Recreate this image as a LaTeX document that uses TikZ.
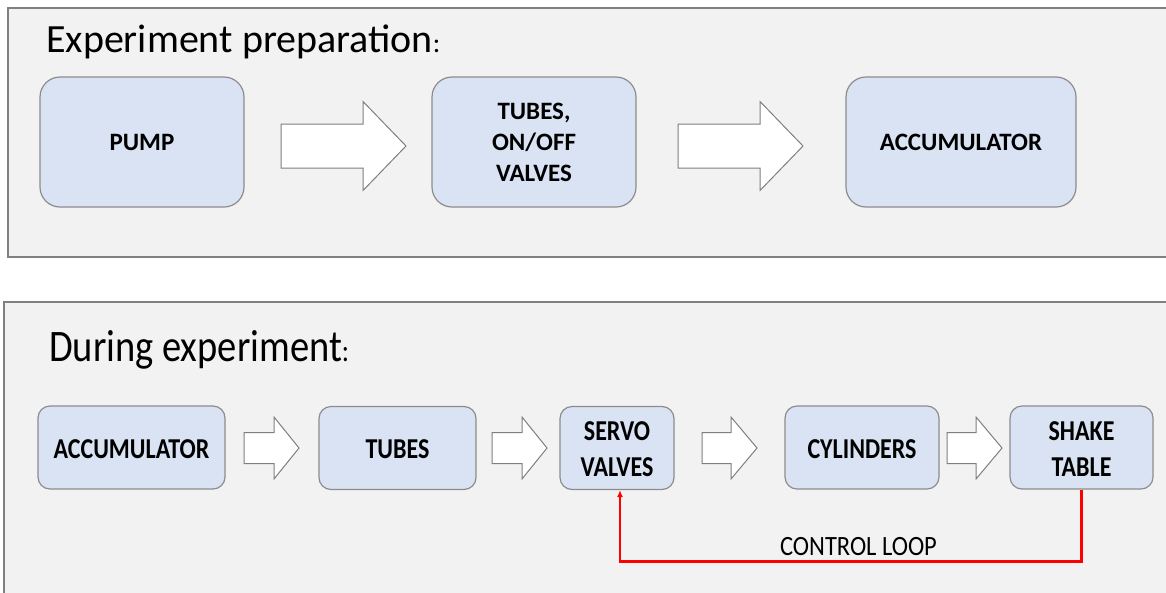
\documentclass[tikz,border=0pt]{standalone}
\usepackage{fontspec}
\usepackage{graphicx}
\setmainfont{Carlito}
\usetikzlibrary{arrows.meta}
\definecolor{panelfill}{HTML}{F2F2F2}
\definecolor{panelline}{HTML}{808080}
\definecolor{boxfill}{HTML}{DAE3F3}
\definecolor{boxline}{HTML}{8C8C8C}
\definecolor{arrline}{HTML}{7F7F7F}
\definecolor{loopred}{HTML}{FF0000}
\newcommand{\talltext}[1]{\raisebox{-3.5pt}[\height][\depth]{\scalebox{1}[1.2]{\begin{tabular}{@{}c@{}}#1\end{tabular}}}}
\newcommand{\blockarr}[6]{%
  \draw[blockarrow] (#1,#3-#5) -- (#2,#3-#5) -- (#2,#3-#6) -- (#4,#3) -- (#2,#3+#6) -- (#2,#3+#5) -- (#1,#3+#5) -- cycle;}
\tikzset{
  panel/.style={fill=panelfill, draw=panelline, line width=1.5pt},
  bigbox/.style={rectangle, rounded corners=20pt, fill=boxfill, draw=boxline, line width=1.2pt,
    inner sep=0pt, minimum height=130pt, align=center, font=\bfseries\fontsize{25}{31}\selectfont},
  smallbox/.style={rectangle, rounded corners=12pt, fill=boxfill, draw=boxline, line width=1.2pt,
    inner sep=0pt, minimum height=83pt, align=center, font=\bfseries\fontsize{24}{30}\selectfont},
  blockarrow/.style={fill=white, draw=arrline, line width=1pt, line join=miter},
  loopline/.style={draw=loopred, line width=2.5pt, -{Latex[length=7pt,width=6pt]}},
}
\begin{document}
\begin{tikzpicture}[x=1pt,y=-1pt]
\useasboundingbox (0,0) rectangle (1166,592);
% panels
\draw[panel] (8,8) rectangle (1180,257);
\draw[panel] (4,302) rectangle (1180,610);
% titles
\node[anchor=base west, inner sep=0pt, font=\fontsize{40}{48}\selectfont] (t1) at (46,52)
  {Experiment preparation{\fontsize{28}{32}\selectfont:}};
\node[anchor=base west, inner sep=0pt, font=\fontsize{38.5}{46}\selectfont] (t2) at (49,361)
  {\scalebox{1}[1.17]{During experiment{\fontsize{27}{32}\selectfont:}}};
% top row
\node[bigbox, minimum width=204pt] (pump) at (142,142) {PUMP};
\node[bigbox, minimum width=204pt] (tubes) at (534,142) {TUBES,\\ON/OFF\\VALVES};
\node[bigbox, minimum width=230pt] (acc) at (961,142) {ACCUMULATOR};
\blockarr{281}{363}{146}{406}{22}{44.5}
\blockarr{678}{760}{146}{803}{22}{44.5}
% bottom row
\node[smallbox, minimum width=187pt] (acc2) at (131.5,447.5) {\talltext{ACCUMULATOR}};
\node[smallbox, minimum width=157pt] (tubes2) at (397.5,448) {\talltext{TUBES}};
\node[smallbox, minimum width=114pt] (servo) at (617,448) {\talltext{SERVO\\VALVES}};
\node[smallbox, minimum width=154pt] (cyl) at (862,447.5) {\talltext{CYLINDERS}};
\node[smallbox, minimum width=143pt] (shake) at (1081.5,447.5) {\talltext{SHAKE\\TABLE}};
\blockarr{244}{274}{448}{299}{15.5}{31}
\blockarr{492}{522}{448}{547}{15.5}{31}
\blockarr{702}{731}{448}{757}{15.5}{31}
\blockarr{947}{976}{448}{1002}{15.5}{31}
% control loop
\coordinate (servoin) at ([xshift=3pt]servo.south);
\draw[loopline] (shake.south) -- ++(0,72) -| (servoin);
\node[anchor=base, inner sep=0pt, font=\fontsize{24.5}{29}\selectfont] (cl) at (858.5,555)
  {\scalebox{1}[1.14]{CONTROL LOOP}};
\end{tikzpicture}
\end{document}
